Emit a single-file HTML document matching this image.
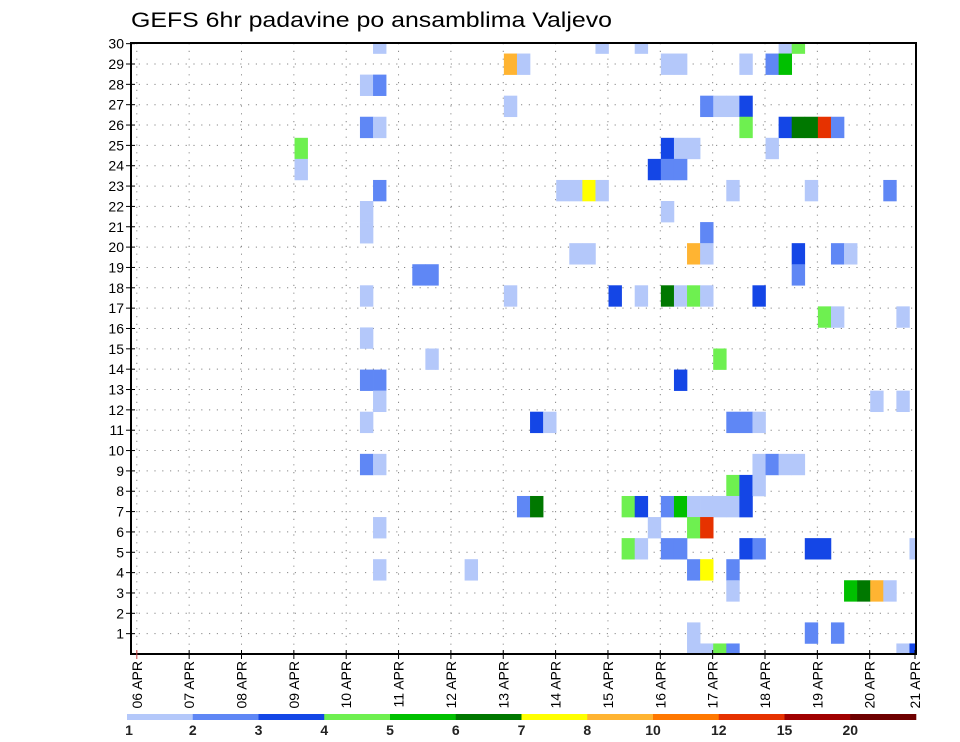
<!DOCTYPE html>
<html><head><meta charset="utf-8"><style>
html,body{margin:0;padding:0;background:#fff;}
svg{display:block;font-family:"Liberation Sans",sans-serif;}
</style></head><body>
<svg id="chart" width="960" height="742" viewBox="0 0 960 742" xmlns="http://www.w3.org/2000/svg">
<rect width="960" height="742" fill="#fff"/>
<text x="131" y="27" font-size="21" textLength="481" lengthAdjust="spacingAndGlyphs" fill="#000">GEFS 6hr padavine po ansamblima Valjevo</text>
<defs><clipPath id="plotclip"><rect x="131" y="43" width="785" height="611"/></clipPath></defs>
<g id="grid"></g>
<g id="cells" clip-path="url(#plotclip)"></g>
<rect x="131" y="43" width="785" height="611" fill="none" stroke="#000" stroke-width="2"/>
<g id="axes"></g>
<g id="legend"></g>
</svg>
<script>
// data
const dayLabels = ["06 APR","07 APR","08 APR","09 APR","10 APR","11 APR","12 APR","13 APR","14 APR","15 APR","16 APR","17 APR","18 APR","19 APR","20 APR","21 APR"];
const memberTicks = [1,2,3,4,5,6,7,8,9,10,11,12,13,14,15,16,17,18,19,20,21,22,23,24,25,26,27,28,29,30];
const levels = [1,2,3,4,5,6,7,8,10,12,15,20];
const levelColors = ["#b4c8fa","#5f87f5","#1446e6","#6ef050","#00c000","#007800","#ffff00","#ffb432","#ff7800","#e63200","#a00000","#6e0000"];
// cells: 6-hour step index, member row, precipitation (mm)
const cellStep = [19,18,19,18,19,13,13,19,18,18,22,23,18,18,18,19,19,18,18,19,19,19,
36,39,29,30,29,40,33,34,35,36,34,35,29,37,39,23,
31,32,30,31,38,39,40,38,39,26,
50,51,41,42,47,49,50,44,45,46,47,47,50,51,52,53,54,41,42,43,49,41,42,46,52,58,41,44,43,44,51,54,55,51,41,42,43,44,48,53,54,59,45,
42,57,59,46,47,48,48,49,50,51,46,47,48,41,42,43,44,45,46,47,43,44,41,42,47,48,52,53,60,43,44,46,46,55,56,57,58,43,52,54,43,44,45,46,59,60];
const cellMember = [30,28,28,26,26,25,24,23,22,21,19,19,18,16,14,14,13,12,10,10,7,5,
30,30,29,29,27,24,23,23,23,23,20,20,18,18,18,15,
12,12,8,8,8,8,7,6,6,5,
30,30,29,29,29,29,29,27,27,27,27,26,26,26,26,26,26,25,25,25,25,24,24,23,23,23,22,21,20,20,20,20,20,19,18,18,18,18,18,17,17,17,15,
14,13,13,12,12,12,10,10,10,10,9,9,9,8,8,8,8,8,8,8,7,7,6,6,6,6,6,6,6,5,5,5,4,4,4,4,4,2,2,2,1,1,1,1,1,1];
const cellValue = [1.5,1.5,2.5,2.5,1.5,4.5,1.5,2.5,1.5,1.5,2.5,2.5,1.5,1.5,2.5,2.5,1.5,1.5,2.5,1.5,1.5,1.5,
1.5,1.5,9,1.5,1.5,3.5,1.5,1.5,7.5,1.5,1.5,1.5,1.5,3.5,1.5,1.5,
3.5,1.5,2.5,6.5,4.5,3.5,1.5,4.5,1.5,1.5,
1.5,4.5,1.5,1.5,1.5,2.5,5.5,2.5,1.5,1.5,3.5,4.5,3.5,6.5,6.5,13,2.5,3.5,1.5,1.5,1.5,2.5,2.5,1.5,1.5,2.5,1.5,2.5,9,1.5,3.5,2.5,1.5,2.5,6.5,1.5,4.5,1.5,3.5,4.5,1.5,1.5,4.5,
3.5,1.5,1.5,2.5,2.5,1.5,1.5,2.5,1.5,1.5,4.5,3.5,1.5,2.5,5.5,1.5,1.5,1.5,1.5,3.5,4.5,13,2.5,2.5,3.5,2.5,3.5,3.5,1.5,2.5,7.5,2.5,1.5,5.5,6.5,9,1.5,1.5,2.5,2.5,1.5,1.5,4.5,2.5,1.5,3.5];

const NS = "http://www.w3.org/2000/svg";
const L = 131, R = 916, T = 43, B = 654;
const stepW = (R - L) / 60;
const memberH = (B - T) / 29;
const tickH = (634 - 44) / 29;
const dayX0 = 136.8, dayW = 52.35;
function xStep(s){ return L + s * stepW; }
function yMember(m){ return B - (m - 1) * memberH; }
function yTick(k){ return B - k * tickH; }
function xDay(d){ return dayX0 + d * dayW; }
function colorFor(v){ let i = 0; for (let k = 0; k < levels.length; k++) if (v >= levels[k]) i = k; return levelColors[i]; }
function mk(tag, attrs, parent){ const e = document.createElementNS(NS, tag); for (const k in attrs) e.setAttribute(k, attrs[k]); parent.appendChild(e); return e; }

const grid = document.getElementById('grid');
for (const k of memberTicks) {
  if (k >= 30) continue;
  const ln = mk('line', {x1:L, x2:R, y1:yTick(k), y2:yTick(k), stroke:'#888', 'stroke-width':1, 'stroke-dasharray':'1.2,6.6'}, grid);
  
  
}
for (let d = 0; d < dayLabels.length; d++) {
  const x = xDay(d); if (x > R - 1) continue;
  const ln = mk('line', {x1:x, x2:x, y1:T, y2:B, stroke:'#888', 'stroke-width':1, 'stroke-dasharray':'1.2,6.6'}, grid);
  
  
}

const cells = document.getElementById('cells');
for (let i = 0; i < cellStep.length; i++) {
  const r = mk('rect', {x:xStep(cellStep[i]) - stepW/2, y:yMember(cellMember[i]) - memberH/2, width:stepW + 0.3, height:memberH + 0.3, fill:colorFor(cellValue[i])}, cells);
  
  
}

const axes = document.getElementById('axes');
for (const k of memberTicks) {
  const y = yTick(k);
  const t = mk('line', {x1:L - 5, x2:L + 4, y1:y, y2:y, stroke:'#000', 'stroke-width':1}, axes);
  
  
  const lb = mk('text', {x:124, y:y + 5, 'font-size':14, 'text-anchor':'end', fill:'#000'}, axes);
  lb.textContent = String(k);
  
  
}
for (let d = 0; d < dayLabels.length; d++) {
  const x = Math.min(xDay(d), 915);
  const t = mk('line', {x1:x, x2:x, y1:B - 4, y2:B + 5, stroke: d === 0 ? '#c44' : '#000', 'stroke-width':1}, axes);
  
  
  const lb = mk('text', {x:0, y:0, 'font-size':14, 'text-anchor':'end', fill:'#000', transform:'translate(' + (x + 5) + ',661) rotate(-90)'}, axes);
  lb.textContent = dayLabels[d];
  
  
}

const legend = document.getElementById('legend');
const lgL = 127, lgR = 916, segW = (lgR - lgL) / levels.length;
for (let i = 0; i < levels.length; i++) {
  const r = mk('rect', {x:lgL + i*segW, y:714, width:segW + 0.3, height:6, fill:levelColors[i]}, legend);
  
  
  const lb = mk('text', {x:lgL + i*segW + (i === 0 ? 2 : 0), y:735, 'font-size':14, 'font-weight':'bold', 'text-anchor':'middle', fill:'#222'}, legend);
  lb.textContent = String(levels[i]);
  
  
}
</script>
</body></html>
